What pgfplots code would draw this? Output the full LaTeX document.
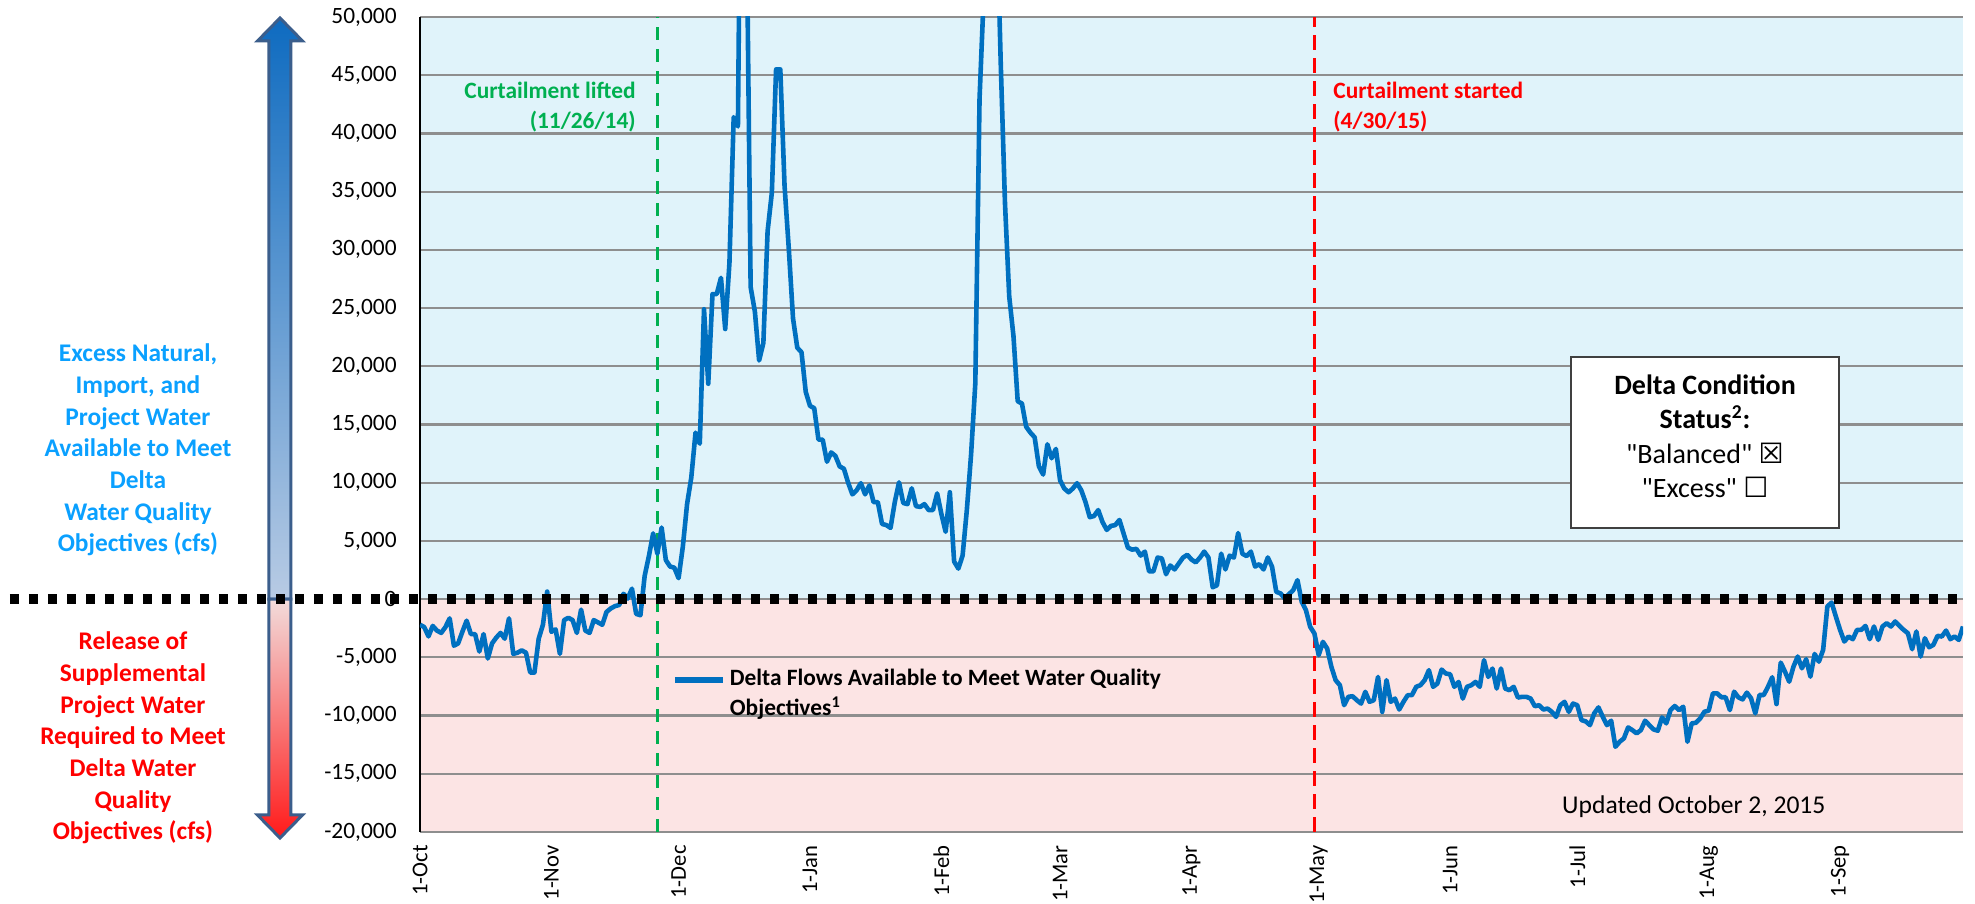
\documentclass[border=0pt]{standalone}
\usepackage{pgfplots}
\pgfplotsset{compat=1.18}
\usepackage{pgfplotstable}
\usepackage{fontspec}
\setmainfont{Carlito}
\newfontfamily\plaincal{Carlito}
\newfontfamily\djv{DejaVu Sans}
\definecolor{flow}{HTML}{0070C0}
\definecolor{cgreen}{HTML}{00B050}
\definecolor{cred}{HTML}{FF0000}
\definecolor{ltblue}{RGB}{10,160,255}
\definecolor{bluebg}{RGB}{224,243,250}
\definecolor{pinkbg}{RGB}{252,228,228}
\definecolor{arrowline}{HTML}{3B5E8C}
\definecolor{arrowtop}{HTML}{0E6BC0}
\definecolor{arrowmid}{HTML}{B8CBE4}
\definecolor{arrowpink}{HTML}{F2DCDB}
\definecolor{arrowred}{HTML}{FF1A1A}
\definecolor{gridgray}{HTML}{8E8E8E}

\pgfplotstableread{
day val
0 -2200
1 -2400
2 -3200
3 -2300
4 -2700
5 -2900
6 -2400
7 -1650
8 -4000
9 -3800
10 -2800
11 -1850
12 -3000
13 -3000
14 -4500
15 -3000
16 -5100
17 -3800
18 -3300
19 -2900
20 -3400
21 -1650
22 -4700
23 -4600
24 -4400
25 -4600
26 -6300
27 -6300
28 -3400
29 -2200
30 650
31 -2800
32 -2600
33 -4700
34 -1800
35 -1600
36 -1800
37 -2900
38 -900
39 -2700
40 -2900
41 -1800
42 -2000
43 -2200
44 -1100
45 -800
46 -600
47 -500
48 460
49 50
50 900
51 -1270
52 -1380
53 2000
54 3700
55 5650
56 3900
57 6150
58 3350
59 2800
60 2700
61 1800
62 4500
63 8150
64 10450
65 14300
66 13350
67 24900
68 18500
69 26200
70 26200
71 27600
72 23200
73 28900
74 41400
75 40600
76 80000
77 60000
78 26800
79 24700
80 20500
81 22000
82 31600
83 34900
84 45500
85 45500
86 35500
87 30100
88 24100
89 21600
90 21200
91 17800
92 16600
93 16400
94 13700
95 13700
96 11800
97 12600
98 12300
99 11400
100 11200
101 10000
102 9000
103 9350
104 9960
105 9000
106 9760
107 8330
108 8330
109 6460
110 6360
111 6120
112 8330
113 10030
114 8260
115 8160
116 9520
117 7990
118 7920
119 8160
120 7650
121 7650
122 9080
123 7310
124 5780
125 9180
126 3230
127 2620
128 3740
129 7650
130 12410
131 18530
132 43000
133 52000
134 70000
135 75000
136 60000
137 46000
138 34000
139 26000
140 22600
141 17000
142 16800
143 14800
144 14300
145 13900
146 11400
147 10700
148 13300
149 12100
150 12900
151 10200
152 9500
153 9180
154 9500
155 9960
156 9350
157 8330
158 7040
159 7140
160 7650
161 6630
162 5950
163 6290
164 6360
165 6800
166 5610
167 4420
168 4250
169 4320
170 3740
171 4080
172 2380
173 2380
174 3570
175 3500
176 2140
177 2890
178 2550
179 3060
180 3570
181 3810
182 3400
183 3160
184 3570
185 4080
186 3570
187 1020
188 1190
189 3910
190 2550
191 3740
192 3570
193 5680
194 3900
195 3700
196 4080
197 2800
198 3000
199 2550
200 3580
201 2780
202 630
203 490
204 60
205 430
206 770
207 1630
208 -230
209 -950
210 -2380
211 -2950
212 -4810
213 -3670
214 -4240
215 -5820
216 -6960
217 -7390
218 -9110
219 -8390
220 -8340
221 -8680
222 -8970
223 -7960
224 -8820
225 -8680
226 -6680
227 -9680
228 -6960
229 -8820
230 -8540
231 -9480
232 -8820
233 -8250
234 -8250
235 -7530
236 -7390
237 -6960
238 -6100
239 -7530
240 -7250
241 -6050
242 -6390
243 -6450
244 -7530
245 -7110
246 -8540
247 -7530
248 -7390
249 -7110
250 -7530
251 -5240
252 -6680
253 -5960
254 -7680
255 -5960
256 -7680
257 -7820
258 -7530
259 -8450
260 -8390
261 -8390
262 -8540
263 -9200
264 -9110
265 -9480
266 -9400
267 -9680
268 -10110
269 -9110
270 -8820
271 -9680
272 -8970
273 -9110
274 -10390
275 -10500
276 -10820
277 -9810
278 -9300
279 -10100
280 -10820
281 -10440
282 -12680
283 -12250
284 -11960
285 -11020
286 -11250
287 -11530
288 -11250
289 -10440
290 -10820
291 -11190
292 -11300
293 -10160
294 -10670
295 -9530
296 -9180
297 -9530
298 -9240
299 -12250
300 -10670
301 -10620
302 -10240
303 -9670
304 -9580
305 -8090
306 -8090
307 -8430
308 -8430
309 -9530
310 -7950
311 -8430
312 -8610
313 -8030
314 -8520
315 -9810
316 -8230
317 -8230
318 -7520
319 -6710
320 -9010
321 -5450
322 -6230
323 -7090
324 -5800
325 -4930
326 -5940
327 -5160
328 -6660
329 -4710
330 -5370
331 -4360
332 -630
333 -290
334 -1490
335 -2640
336 -3640
337 -3210
338 -3440
339 -2640
340 -2640
341 -2300
342 -3440
343 -2350
344 -3500
345 -2350
346 -2070
347 -2350
348 -1920
349 -2300
350 -2640
351 -2930
352 -4300
353 -2780
354 -4930
355 -3360
356 -4130
357 -3930
358 -3150
359 -3210
360 -2700
361 -3440
362 -3210
363 -3500
364 -2350
}\flowtable

\begin{document}
\begin{tikzpicture}
\begin{axis}[
  set layers,
  scale only axis, width=771.5pt, height=407.5pt,
  at={(0,0)}, anchor=south west,
  xmin=0, xmax=364, ymin=-20000, ymax=50000,
  axis x line*=bottom, axis y line*=left,
  x axis line style={draw=none},
  y axis line style={black, line width=1pt, -},
  major tick length=0pt,
  xtick={0,31,61,92,123,151,182,212,243,273,304,335},
  xticklabels={1-Oct,1-Nov,1-Dec,1-Jan,1-Feb,1-Mar,1-Apr,1-May,1-Jun,1-Jul,1-Aug,1-Sep},
  ytick={-20000,-15000,-10000,-5000,0,5000,10000,15000,20000,25000,30000,35000,40000,45000,50000},
  yticklabels={{-20,000},{-15,000},{-10,000},{-5,000},{0},{5,000},{10,000},{15,000},{20,000},{25,000},{30,000},{35,000},{40,000},{45,000},{50,000}},
  ymajorgrids, grid style={color=gridgray, line width=1.1pt},
  yticklabel style={font=\fontsize{11.7}{14}\selectfont, anchor=east, inner sep=0pt},
  yticklabel shift=11.5pt,
  xticklabel style={font=\fontsize{11.3}{14}\selectfont, rotate=90, anchor=east, inner sep=0pt},
  xticklabel shift=6.5pt,
  legend style={at={(rel axis cs:0.163,0.205)}, anchor=north west, draw=none, fill=none, inner sep=0pt,
    font=\bfseries\fontsize{11.7}{15}\selectfont, cells={align=left, anchor=west},
    /tikz/every even column/.append style={column sep=6pt}},
  legend image code/.code={\path[draw=none] (0pt,-7pt) -- (24pt,-7pt); \draw[#1, line width=3pt] (0pt,7pt) -- (24pt,7pt);},
]
\begin{pgfonlayer}{axis background}
\fill[bluebg] (axis cs:0,0) rectangle (axis cs:364,50000);
\fill[pinkbg] (axis cs:0,-20000) rectangle (axis cs:364,0);
\end{pgfonlayer}

\draw[cgreen, line width=1.75pt, dash pattern=on 6.5pt off 4.5pt] (axis cs:56,-20000) -- (axis cs:56,50000);
\draw[cred, line width=1.75pt, dash pattern=on 7.5pt off 4pt] (axis cs:211,-20000) -- (axis cs:211,50000);

\addplot[flow, line width=2.3pt, line join=round] table[x=day, y=val] {\flowtable};
\addlegendentry{Delta Flows Available to Meet Water Quality\\Objectives\textsuperscript{1}}

\node[anchor=east, align=right, inner sep=0pt, text=cgreen, font=\bfseries\fontsize{11.7}{15}\selectfont]
  at (rel axis cs:0.140,0.8896) {Curtailment lifted\\(11/26/14)};
\node[anchor=west, align=left, inner sep=0pt, text=cred, font=\bfseries\fontsize{11.7}{15}\selectfont]
  at (rel axis cs:0.5917,0.8896) {Curtailment started\\(4/30/15)};

\node[draw=black!75, line width=1pt, fill=white, minimum width=134pt, minimum height=85.5pt]
  at (rel axis cs:0.8328,0.478) {};
\node[align=center, inner sep=0pt, font=\fontsize{14}{17.2}\selectfont]
  at ([yshift=3pt]rel axis cs:0.8328,0.478)
  {\textbf{Delta Condition}\\\textbf{Status\textsuperscript{2}:}\\{\plaincal "Balanced"} {\djv\bfseries\fontsize{14}{17}\selectfont ☒}\\{\plaincal "Excess"} {\djv\fontsize{14}{17}\selectfont ☐}};

\node[anchor=west, inner sep=0pt, font=\fontsize{12.8}{15}\selectfont] at (rel axis cs:0.740,0.0307) {Updated October 2, 2015};

\coordinate (zl) at (axis cs:0,0);
\coordinate (zr) at (axis cs:364,0);
\end{axis}

% double arrow on the left
\fill[top color=arrowtop, bottom color=arrowmid, draw=arrowline, line width=1.5pt, line join=miter]
  (-75.5pt,116.4pt) -- (-75.5pt,395.5pt) -- (-81.25pt,395.5pt) -- (-70pt,407pt) -- (-58.75pt,395.5pt) -- (-64.5pt,395.5pt) -- (-64.5pt,116.4pt) -- cycle;
\fill[top color=arrowpink, bottom color=arrowred, draw=arrowline, line width=1.5pt, line join=miter]
  (-75.5pt,116.4pt) -- (-75.5pt,8.5pt) -- (-81.25pt,8.5pt) -- (-70pt,-3pt) -- (-58.75pt,8.5pt) -- (-64.5pt,8.5pt) -- (-64.5pt,116.4pt) -- cycle;

\node[align=center, text=ltblue, font=\bfseries\fontsize{12.7}{15.85}\selectfont] at (-141pt,191pt)
  {Excess Natural,\\Import, and\\Project Water\\Available to Meet\\Delta\\Water Quality\\Objectives (cfs)};
\node[align=center, text=cred, font=\bfseries\fontsize{12.7}{15.85}\selectfont] at (-143.5pt,47pt)
  {Release of\\Supplemental\\Project Water\\Required to Meet\\Delta Water\\Quality\\Objectives (cfs)};

\draw[black, line width=4.7pt, dash pattern=on 4.7pt off 4.8pt] ([xshift=-205pt]zl) -- (zr);

\pgfresetboundingbox
\path[use as bounding box] (-210pt,-36pt) rectangle (777.5pt,416pt);
\end{tikzpicture}
\end{document}
